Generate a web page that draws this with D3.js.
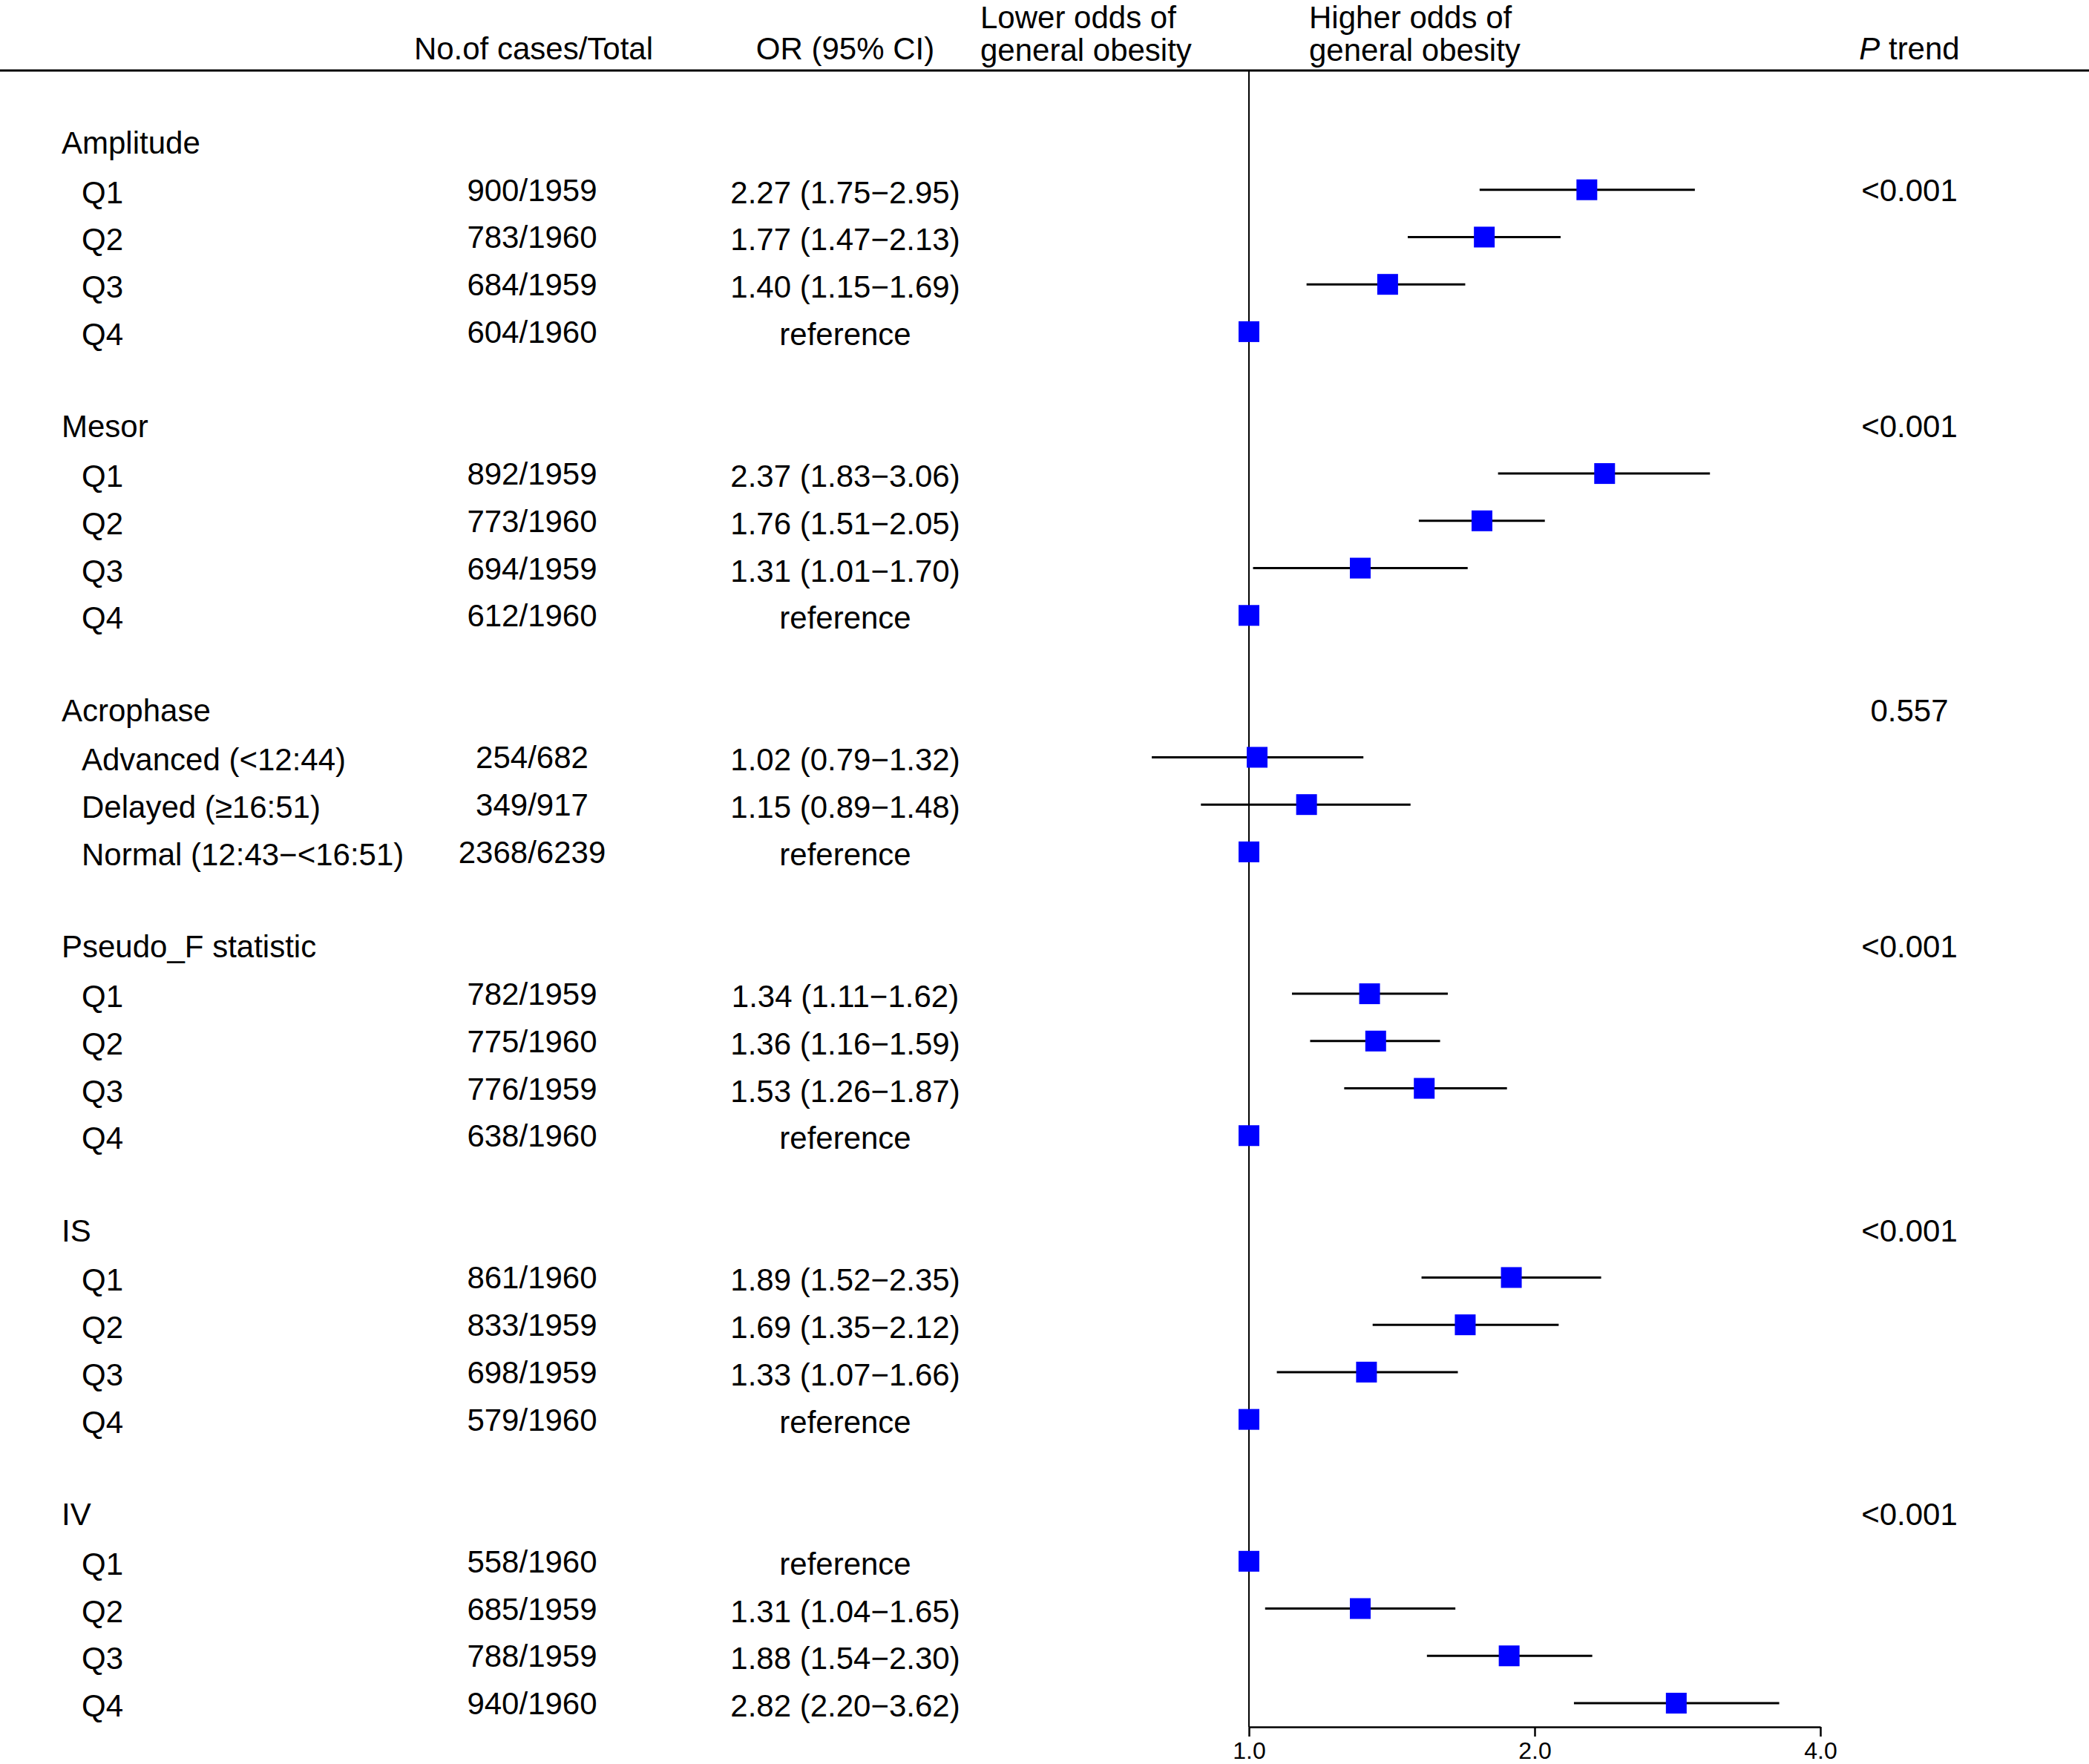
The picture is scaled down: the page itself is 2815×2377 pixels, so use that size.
<!DOCTYPE html>
<html>
<head>
<meta charset="utf-8">
<script src="https://cdn.jsdelivr.net/npm/d3@7"></script>
<style>
  html, body { margin: 0; padding: 0; background: #ffffff; }
  svg { display: block; }
  text { font-family: "Liberation Sans", Arial, Helvetica, sans-serif; fill: #000; }
</style>
</head>
<body>
<svg id="chart" width="2815" height="2377"></svg>
<script>
// ---------------- DATA ----------------
const groups = ["Amplitude", "Mesor", "Acrophase", "Pseudo_F statistic", "IS", "IV"];
const pTrend = ["<0.001", "<0.001", "0.557", "<0.001", "<0.001", "<0.001"];
// row offset (0 = on the group header row, 1 = on first item row)
const pTrendRowOffset = [1, 0, 0, 0, 0, 0];

const itemGroup = [0,0,0,0, 1,1,1,1, 2,2,2, 3,3,3,3, 4,4,4,4, 5,5,5,5];
const itemLabels = [
  "Q1","Q2","Q3","Q4",
  "Q1","Q2","Q3","Q4",
  "Advanced (<12:44)","Delayed (\u226516:51)","Normal (12:43\u2212<16:51)",
  "Q1","Q2","Q3","Q4",
  "Q1","Q2","Q3","Q4",
  "Q1","Q2","Q3","Q4"
];
const cases = [
  "900/1959","783/1960","684/1959","604/1960",
  "892/1959","773/1960","694/1959","612/1960",
  "254/682","349/917","2368/6239",
  "782/1959","775/1960","776/1959","638/1960",
  "861/1960","833/1959","698/1959","579/1960",
  "558/1960","685/1959","788/1959","940/1960"
];
// null = reference category
const orValues = [
  2.27, 1.77, 1.40, null,
  2.37, 1.76, 1.31, null,
  1.02, 1.15, null,
  1.34, 1.36, 1.53, null,
  1.89, 1.69, 1.33, null,
  null, 1.31, 1.88, 2.82
];
const ciLower = [
  1.75, 1.47, 1.15, null,
  1.83, 1.51, 1.01, null,
  0.79, 0.89, null,
  1.11, 1.16, 1.26, null,
  1.52, 1.35, 1.07, null,
  null, 1.04, 1.54, 2.20
];
const ciUpper = [
  2.95, 2.13, 1.69, null,
  3.06, 2.05, 1.70, null,
  1.32, 1.48, null,
  1.62, 1.59, 1.87, null,
  2.35, 2.12, 1.66, null,
  null, 1.65, 2.30, 3.62
];
const axisTicks = [1, 2, 4];
const referenceValue = 1;

// ---------------- LAYOUT ----------------
const W = 2815, H = 2377;
const svg = d3.select("#chart");
const FS = 42;

// build rows (group header row, item rows, blank row between groups)
const rows = [];
let r = 0;
const groupRow = [];
groups.forEach((g, gi) => {
  groupRow[gi] = r;
  rows.push({type: "group", label: g, row: r});
  r++;
  itemGroup.forEach((ig, i) => {
    if (ig === gi) {
      rows.push({type: "item", i: i, row: r});
      r++;
    }
  });
  r++; // blank
});

const y = d3.scaleLinear().domain([0, 33]).range([192, 2295]);
const x = d3.scaleLog().base(2).domain([1, 4]).range([1683, 2453]);

const colLabelX = 83, colItemX = 110, colCasesX = 717, colOrX = 1139, colPX = 2573;
const headerLineY = 95, axisY = 2327;

// header line
svg.append("line")
  .attr("x1", 0).attr("x2", W)
  .attr("y1", headerLineY).attr("y2", headerLineY)
  .attr("stroke", "#000").attr("stroke-width", 3);

// header texts
const hdr = svg.append("g").attr("font-size", FS);
hdr.append("text").attr("x", 719).attr("y", 80).attr("text-anchor", "middle").text("No.of cases/Total");
hdr.append("text").attr("x", colOrX).attr("y", 80).attr("text-anchor", "middle").text("OR (95% CI)");
hdr.append("text").attr("x", 1321).attr("y", 38).text("Lower odds of");
hdr.append("text").attr("x", 1321).attr("y", 82).text("general obesity");
hdr.append("text").attr("x", 1764).attr("y", 38).text("Higher odds of");
hdr.append("text").attr("x", 1764).attr("y", 82).text("general obesity");
const pt = hdr.append("text").attr("x", colPX).attr("y", 80).attr("text-anchor", "middle");
pt.append("tspan").attr("font-style", "italic").text("P");
pt.append("tspan").text(" trend");

// reference vertical line
svg.append("line")
  .attr("x1", x(referenceValue)).attr("x2", x(referenceValue))
  .attr("y1", headerLineY).attr("y2", axisY)
  .attr("stroke", "#000").attr("stroke-width", 2);

// axis
const axis = d3.axisBottom(x)
  .tickValues(axisTicks)
  .tickFormat(d3.format(".1f"))
  .tickSize(13)
  .tickSizeOuter(0)
  .tickPadding(7);
const ag = svg.append("g").attr("transform", `translate(0,${axisY})`).call(axis);
ag.select(".domain").attr("stroke", "#000").attr("stroke-width", 2.5);
ag.selectAll(".tick line").attr("stroke", "#000").attr("stroke-width", 2.5);
ag.selectAll(".tick text")
  .attr("font-size", 32)
  .attr("font-family", '"Liberation Sans", Arial, sans-serif')
  .attr("fill", "#000");

// text rows
const tg = svg.append("g").attr("font-size", FS);
const fmt = d3.format(".2f");
rows.forEach(d => {
  const cy = y(d.row);
  if (d.type === "group") {
    tg.append("text").attr("x", colLabelX).attr("y", cy + 15).text(d.label);
  } else {
    const i = d.i;
    tg.append("text").attr("x", colItemX).attr("y", cy + 18).text(itemLabels[i]);
    tg.append("text").attr("x", colCasesX).attr("y", cy + 15).attr("text-anchor", "middle").text(cases[i]);
    const t = orValues[i] == null ? "reference"
      : `${fmt(orValues[i])} (${fmt(ciLower[i])}\u2212${fmt(ciUpper[i])})`;
    tg.append("text").attr("x", colOrX).attr("y", cy + 18).attr("text-anchor", "middle").text(t);
  }
});

// P trend
groups.forEach((g, gi) => {
  const cy = y(groupRow[gi] + pTrendRowOffset[gi]);
  tg.append("text").attr("x", colPX).attr("y", cy + 15).attr("text-anchor", "middle").text(pTrend[gi]);
});

// CI lines and markers
const items = rows.filter(d => d.type === "item");
const mg = svg.append("g");
mg.selectAll("line.ci")
  .data(items.filter(d => orValues[d.i] != null))
  .join("line")
  .attr("class", "ci")
  .attr("x1", d => x(ciLower[d.i]))
  .attr("x2", d => x(ciUpper[d.i]))
  .attr("y1", d => y(d.row))
  .attr("y2", d => y(d.row))
  .attr("stroke", "#000")
  .attr("stroke-width", 3);

const S = 28;
mg.selectAll("rect.pt")
  .data(items)
  .join("rect")
  .attr("class", "pt")
  .attr("x", d => x(orValues[d.i] == null ? referenceValue : orValues[d.i]) - S / 2)
  .attr("y", d => y(d.row) - S / 2)
  .attr("width", S)
  .attr("height", S)
  .attr("fill", "#0000ff");
</script>
</body>
</html>
